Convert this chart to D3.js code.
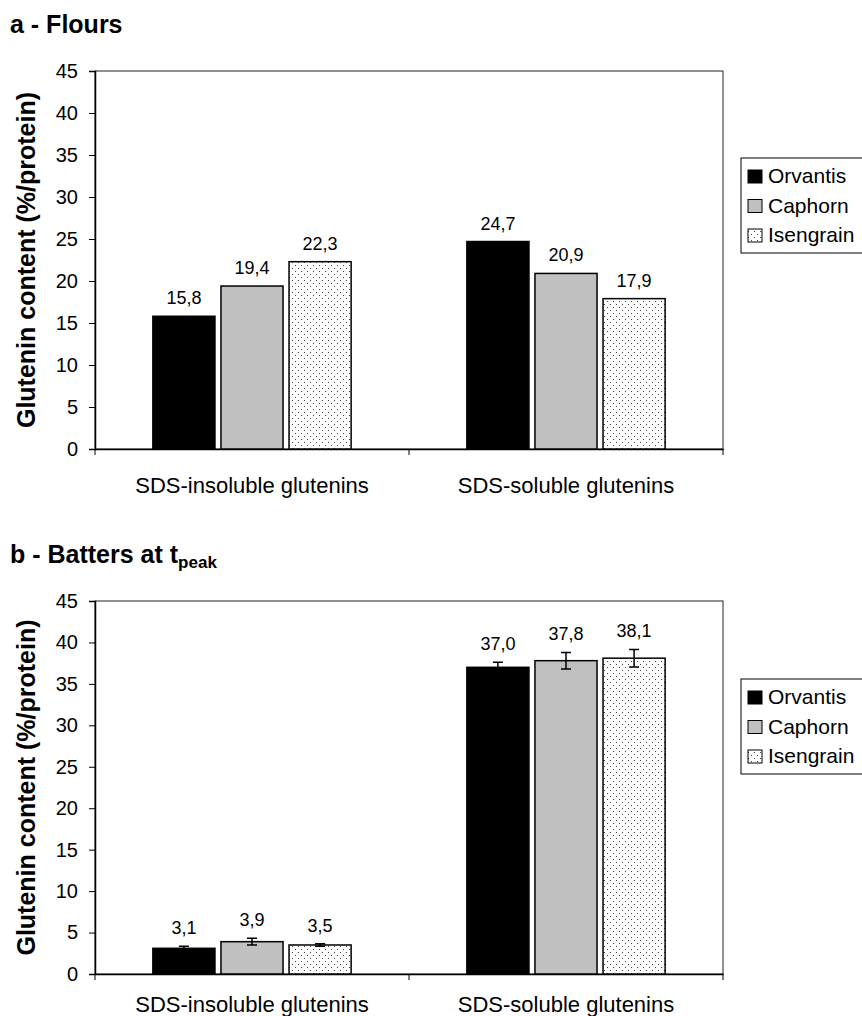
<!DOCTYPE html>
<html>
<head>
<meta charset="utf-8">
<script src="https://cdn.jsdelivr.net/npm/d3@7"></script>
<style>
  body { margin: 0; background: #fff; }
  text { font-family: 'Liberation Sans', Arial, sans-serif; fill: #000; }
</style>
</head>
<body>
<div id="chart"></div>
<script>
// data
const categories = ['SDS-insoluble glutenins', 'SDS-soluble glutenins'];
const varieties = ['Orvantis', 'Caphorn', 'Isengrain'];
const yTicks = [0, 5, 10, 15, 20, 25, 30, 35, 40, 45];

const floursOrvantis = [15.8, 24.7];
const floursCaphorn = [19.4, 20.9];
const floursIsengrain = [22.3, 17.9];

const battersOrvantis = [3.1, 37.0];
const battersCaphorn = [3.9, 37.8];
const battersIsengrain = [3.5, 38.1];
const battersOrvantisErr = [0.25, 0.6];
const battersCaphornErr = [0.4, 1.0];
const battersIsengrainErr = [0.15, 1.05];

const width = 862;
const height = 1016;

const svg = d3.select('#chart')
  .append('svg')
  .attr('width', width)
  .attr('height', height);

svg.append('rect').attr('width', width).attr('height', height).attr('fill', '#fff');

// dotted fill for Isengrain
const defs = svg.append('defs');
const pat = defs.append('pattern')
  .attr('id', 'dots')
  .attr('patternUnits', 'userSpaceOnUse')
  .attr('width', 6)
  .attr('height', 6);
pat.append('rect').attr('width', 6).attr('height', 6).attr('fill', '#fff');
pat.append('rect').attr('x', 1).attr('y', 1).attr('width', 1).attr('height', 1).attr('fill', '#444');
pat.append('rect').attr('x', 4).attr('y', 4).attr('width', 1).attr('height', 1).attr('fill', '#444');

const fills = ['#000', '#c0c0c0', 'url(#dots)'];
const comma = d3.formatLocale({ decimal: ',', thousands: '.', grouping: [3], currency: ['', ''] }).format('.1f');

function drawPanel(opts) {
  const g = svg.append('g');
  const left = 95, right = 723;

  const y = d3.scaleLinear().domain([0, 45]).range([opts.bottom, opts.top]);
  const x0 = d3.scaleBand().domain(categories).range([left, right]);
  const x1 = d3.scaleBand().domain(varieties)
    .range([0, x0.bandwidth()])
    .paddingInner(0.088)
    .paddingOuter(0.85);

  // title
  const title = g.append('text')
    .attr('x', 10)
    .attr('y', opts.titleY)
    .style('font-size', '25px')
    .style('font-weight', 'bold');
  title.append('tspan').text(opts.title);
  if (opts.sub) {
    title.append('tspan').text(opts.sub)
      .attr('dy', 5)
      .style('font-size', '17px');
  }

  // plot frame
  g.append('rect')
    .attr('x', left)
    .attr('y', opts.top)
    .attr('width', right - left)
    .attr('height', opts.bottom - opts.top)
    .attr('fill', 'none')
    .attr('stroke', '#222')
    .attr('stroke-width', 1);

  // y axis
  const axisY = d3.axisLeft(y).tickValues(yTicks).tickSize(6).tickPadding(11);
  const gy = g.append('g')
    .attr('transform', `translate(${left}, 0)`)
    .call(axisY);
  gy.select('.domain').attr('stroke', '#000').attr('stroke-width', 1.5);
  gy.selectAll('.tick line').attr('stroke', '#000');
  gy.selectAll('.tick text')
    .style('font-size', '20px')
    .style('font-family', "'Liberation Sans', Arial, sans-serif")
    .attr('fill', '#000');

  // x axis
  const axisX = d3.axisBottom(x0).tickSize(0).tickPadding(opts.catPad);
  const gx = g.append('g')
    .attr('transform', `translate(0, ${opts.bottom})`)
    .call(axisX);
  gx.select('.domain').attr('stroke', '#000').attr('stroke-width', 1.5);
  gx.selectAll('.tick text')
    .style('font-size', '22px')
    .style('font-family', "'Liberation Sans', Arial, sans-serif")
    .attr('fill', '#000');
  // category separators
  const edges = categories.map(c => x0(c)).concat([right]);
  g.selectAll('.sep')
    .data(edges)
    .enter()
    .append('line')
    .attr('x1', d => d).attr('x2', d => d)
    .attr('y1', opts.bottom).attr('y2', opts.bottom + 6)
    .attr('stroke', '#000');

  // y label
  g.append('text')
    .attr('transform', `translate(35, ${(opts.top + opts.bottom) / 2}) rotate(-90)`)
    .attr('text-anchor', 'middle')
    .style('font-size', '25px')
    .style('font-weight', 'bold')
    .text('Glutenin content (%/protein)');

  // bars
  opts.series.forEach((vals, si) => {
    const errs = opts.errors ? opts.errors[si] : null;
    const grp = g.append('g');
    const rows = categories.map((c, ci) => ({ c: c, v: vals[ci], e: errs ? errs[ci] : 0 }));

    grp.selectAll('rect')
      .data(rows)
      .enter()
      .append('rect')
      .attr('x', d => x0(d.c) + x1(varieties[si]))
      .attr('y', d => y(d.v))
      .attr('width', x1.bandwidth())
      .attr('height', d => y(0) - y(d.v))
      .attr('fill', fills[si])
      .attr('stroke', '#000')
      .attr('stroke-width', 1.5);

    if (errs) {
      const cx = d => x0(d.c) + x1(varieties[si]) + x1.bandwidth() / 2;
      grp.selectAll('.err')
        .data(rows)
        .enter()
        .append('path')
        .attr('d', d => {
          const t = y(d.v + d.e), b = y(d.v - d.e), c = cx(d);
          return `M${c - 5},${t}H${c + 5}M${c},${t}V${b}M${c - 5},${b}H${c + 5}`;
        })
        .attr('fill', 'none')
        .attr('stroke', '#000')
        .attr('stroke-width', 1.5);
    }

    grp.selectAll('.val')
      .data(rows)
      .enter()
      .append('text')
      .attr('x', d => x0(d.c) + x1(varieties[si]) + x1.bandwidth() / 2)
      .attr('y', d => y(d.v + d.e) - 12)
      .attr('text-anchor', 'middle')
      .style('font-size', '18px')
      .text(d => comma(d.v));
  });

  // legend
  const lg = g.append('g').attr('transform', `translate(741, ${opts.legendTop})`);
  lg.append('rect')
    .attr('width', 130)
    .attr('height', 95)
    .attr('fill', '#fff')
    .attr('stroke', '#000');
  varieties.forEach((v, i) => {
    lg.append('rect')
      .attr('x', 7)
      .attr('y', 12 + i * 29.5)
      .attr('width', 14)
      .attr('height', 13)
      .attr('fill', fills[i])
      .attr('stroke', '#000');
    lg.append('text')
      .attr('x', 27)
      .attr('y', 25 + i * 29.5)
      .style('font-size', '21px')
      .text(v);
  });
}

drawPanel({
  title: 'a - Flours',
  titleY: 33,
  top: 71,
  bottom: 449,
  catPad: 28,
  legendTop: 158,
  series: [floursOrvantis, floursCaphorn, floursIsengrain]
});

drawPanel({
  title: 'b - Batters at t',
  sub: 'peak',
  titleY: 563,
  top: 601,
  bottom: 974,
  catPad: 22,
  legendTop: 679,
  series: [battersOrvantis, battersCaphorn, battersIsengrain],
  errors: [battersOrvantisErr, battersCaphornErr, battersIsengrainErr]
});
</script>
</body>
</html>
